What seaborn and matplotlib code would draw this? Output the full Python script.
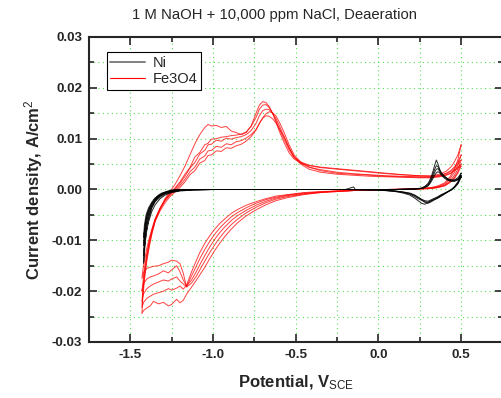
import pandas as pd
import matplotlib
matplotlib.use("Agg")
import matplotlib.pyplot as plt
import matplotlib.ticker as ticker
from matplotlib.lines import Line2D
import seaborn as sns

# ---- Fe3O4: shared potential grids (cathodic sweep, then anodic sweep) ----
FE_CATH_V = [0.50, 0.48, 0.46, 0.43, 0.40, 0.36, 0.32, 0.25, 0.15, 0.05,
             -0.05, -0.15, -0.25, -0.35, -0.45, -0.55, -0.62, -0.68, -0.74, -0.80,
             -0.85, -0.89, -0.93, -0.96, -0.99, -1.02, -1.05, -1.08, -1.10, -1.13,
             -1.16, -1.18, -1.20, -1.22, -1.25, -1.27, -1.30, -1.33, -1.36, -1.38,
             -1.40, -1.42, -1.43]
FE_ANOD_V = [-1.425, -1.415, -1.40, -1.385, -1.37, -1.35, -1.32, -1.29, -1.26, -1.23,
             -1.20, -1.17, -1.14, -1.11, -1.08, -1.05, -1.03, -1.01, -0.98, -0.95,
             -0.92, -0.89, -0.86, -0.83, -0.80, -0.77, -0.74, -0.72, -0.70, -0.68,
             -0.66, -0.64, -0.62, -0.60, -0.57, -0.54, -0.51, -0.47, -0.42, -0.35,
             -0.25, -0.15, -0.05, 0.05, 0.15, 0.25, 0.32, 0.37, 0.41, 0.44,
             0.46, 0.48, 0.50]

fe_cath_1 = [0.0088, 0.0058, 0.0040, 0.0024, 0.0013, 0.0007, 0.0004, 0.0002, 0.0001, 0.0,
             -0.0001, -0.0002, -0.0004, -0.0006, -0.0010, -0.0016, -0.0022, -0.0030, -0.0040, -0.0052,
             -0.0065, -0.0078, -0.0093, -0.0106, -0.0120, -0.0136, -0.0153, -0.0168, -0.0178, -0.0192,
             -0.0206, -0.0218, -0.0223, -0.0216, -0.0226, -0.0229, -0.0222, -0.0225, -0.0220, -0.0229,
             -0.0233, -0.0238, -0.0244]
fe_cath_2 = [0.0068, 0.0048, 0.0034, 0.0020, 0.0011, 0.0006, 0.0003, 0.0002, 0.0001, 0.0,
             -0.0001, -0.0002, -0.0004, -0.0006, -0.0009, -0.0014, -0.0019, -0.0026, -0.0035, -0.0046,
             -0.0058, -0.0069, -0.0083, -0.0095, -0.0109, -0.0124, -0.0141, -0.0158, -0.0170, -0.0184,
             -0.0192, -0.0165, -0.0146, -0.0141, -0.0139, -0.0143, -0.0146, -0.0150, -0.0151, -0.0153,
             -0.0155, -0.0163, -0.0175]
fe_cath_3 = [0.0058, 0.0040, 0.0028, 0.0016, 0.0009, 0.0005, 0.0003, 0.0001, 0.0, 0.0,
             -0.0001, -0.0002, -0.0003, -0.0005, -0.0008, -0.0012, -0.0017, -0.0023, -0.0031, -0.0041,
             -0.0051, -0.0061, -0.0074, -0.0085, -0.0098, -0.0113, -0.0130, -0.0148, -0.0161, -0.0178,
             -0.0190, -0.0178, -0.0162, -0.0150, -0.0158, -0.0164, -0.0160, -0.0166, -0.0170, -0.0172,
             -0.0176, -0.0185, -0.0200]
fe_cath_4 = [0.0050, 0.0035, 0.0024, 0.0014, 0.0008, 0.0004, 0.0002, 0.0001, 0.0, 0.0,
             -0.0001, -0.0002, -0.0003, -0.0005, -0.0007, -0.0011, -0.0015, -0.0020, -0.0027, -0.0036,
             -0.0045, -0.0054, -0.0066, -0.0076, -0.0088, -0.0102, -0.0118, -0.0136, -0.0150, -0.0170,
             -0.0191, -0.0186, -0.0180, -0.0172, -0.0176, -0.0180, -0.0178, -0.0182, -0.0186, -0.0190,
             -0.0195, -0.0205, -0.0220]
fe_cath_5 = [0.0046, 0.0032, 0.0022, 0.0013, 0.0007, 0.0004, 0.0002, 0.0001, 0.0, 0.0,
             -0.0001, -0.0002, -0.0003, -0.0004, -0.0006, -0.0010, -0.0013, -0.0018, -0.0024, -0.0031,
             -0.0039, -0.0047, -0.0058, -0.0067, -0.0078, -0.0091, -0.0106, -0.0124, -0.0139, -0.0162,
             -0.0188, -0.0196, -0.0190, -0.0194, -0.0198, -0.0195, -0.0200, -0.0203, -0.0206, -0.0210,
             -0.0214, -0.0222, -0.0232]

fe_anod_1 = [-0.0215, -0.0180, -0.0140, -0.0112, -0.0088, -0.0062, -0.0038, -0.0018, -0.0004, 0.0010,
             0.0027, 0.0046, 0.0068, 0.0090, 0.0108, 0.0122, 0.0128, 0.0125, 0.0126, 0.0122,
             0.0124, 0.0115, 0.0112, 0.0108, 0.0112, 0.0125, 0.0150, 0.0166, 0.0173, 0.0171,
             0.0163, 0.0150, 0.0133, 0.0115, 0.0092, 0.0072, 0.0060, 0.0052, 0.0047, 0.0043,
             0.0040, 0.0037, 0.0034, 0.0031, 0.0029, 0.0027, 0.0027, 0.0030, 0.0036, 0.0045,
             0.0055, 0.0068, 0.0088]
fe_anod_2 = [-0.0160, -0.0140, -0.0115, -0.0095, -0.0078, -0.0058, -0.0037, -0.0020, -0.0008, 0.0003,
             0.0015, 0.0030, 0.0043, 0.0064, 0.0073, 0.0088, 0.0091, 0.0099, 0.0100, 0.0103,
             0.0104, 0.0106, 0.0107, 0.0109, 0.0113, 0.0124, 0.0142, 0.0158, 0.0166, 0.0167,
             0.0161, 0.0150, 0.0136, 0.0120, 0.0098, 0.0078, 0.0063, 0.0054, 0.0048, 0.0044,
             0.0041, 0.0038, 0.0035, 0.0032, 0.0029, 0.0027, 0.0026, 0.0028, 0.0032, 0.0038,
             0.0045, 0.0054, 0.0068]
fe_anod_3 = [-0.0185, -0.0155, -0.0125, -0.0100, -0.0080, -0.0058, -0.0036, -0.0020, -0.0009, 0.0001,
             0.0012, 0.0026, 0.0042, 0.0053, 0.0070, 0.0077, 0.0088, 0.0089, 0.0097, 0.0095,
             0.0101, 0.0099, 0.0102, 0.0104, 0.0108, 0.0116, 0.0130, 0.0145, 0.0155, 0.0158,
             0.0157, 0.0150, 0.0140, 0.0126, 0.0104, 0.0082, 0.0064, 0.0052, 0.0044, 0.0039,
             0.0034, 0.0031, 0.0029, 0.0027, 0.0026, 0.0025, 0.0025, 0.0027, 0.0031, 0.0036,
             0.0042, 0.0050, 0.0058]
fe_anod_4 = [-0.0200, -0.0165, -0.0130, -0.0103, -0.0082, -0.0060, -0.0038, -0.0022, -0.0011, -0.0002,
             0.0008, 0.0020, 0.0035, 0.0044, 0.0060, 0.0066, 0.0076, 0.0077, 0.0085, 0.0083,
             0.0090, 0.0088, 0.0094, 0.0096, 0.0101, 0.0108, 0.0118, 0.0130, 0.0141, 0.0149,
             0.0153, 0.0151, 0.0145, 0.0133, 0.0112, 0.0088, 0.0068, 0.0054, 0.0044, 0.0037,
             0.0032, 0.0030, 0.0028, 0.0026, 0.0025, 0.0024, 0.0024, 0.0026, 0.0029, 0.0033,
             0.0038, 0.0044, 0.0050]
fe_anod_5 = [-0.0205, -0.0170, -0.0135, -0.0108, -0.0086, -0.0063, -0.0042, -0.0026, -0.0014, -0.0005,
             0.0004, 0.0015, 0.0029, 0.0037, 0.0052, 0.0057, 0.0067, 0.0068, 0.0076, 0.0075,
             0.0082, 0.0081, 0.0086, 0.0089, 0.0095, 0.0104, 0.0117, 0.0130, 0.0140, 0.0145,
             0.0144, 0.0139, 0.0131, 0.0120, 0.0103, 0.0082, 0.0064, 0.0050, 0.0040, 0.0034,
             0.0030, 0.0028, 0.0026, 0.0025, 0.0024, 0.0023, 0.0023, 0.0025, 0.0028, 0.0032,
             0.0037, 0.0042, 0.0046]

# ---- Ni ----
NI_CATH_V = [0.50, 0.48, 0.46, 0.44, 0.42, 0.40, 0.38, 0.36, 0.34, 0.32,
             0.30, 0.28, 0.26, 0.24, 0.22, 0.19, 0.15, 0.10, 0.0, -0.2,
             -0.5, -0.8, -1.0, -1.12, -1.20, -1.25, -1.29, -1.32, -1.35, -1.37,
             -1.39, -1.405, -1.415, -1.42]
NI_ANOD_V = [-1.42, -1.41, -1.40, -1.385, -1.37, -1.35, -1.33, -1.31, -1.28, -1.25,
             -1.20, -1.0, -0.6, -0.2, -0.16, -0.15, -0.14, 0.1, 0.22, 0.26,
             0.28, 0.30, 0.31, 0.32, 0.33, 0.34, 0.35, 0.36, 0.37, 0.38,
             0.40, 0.42, 0.44, 0.46, 0.48, 0.50]

ni_cath_1 = [0.0032, 0.0015, 0.0006, 0.0000, -0.0004, -0.0008, -0.0012, -0.0016, -0.0019, -0.0022,
             -0.0026, -0.0029, -0.0027, -0.0022, -0.0017, -0.0011, -0.0007, -0.0004, -0.0001, 0.0,
             0.0, 0.0, 0.0, -0.0001, -0.0003, -0.0006, -0.0011, -0.0018, -0.0030, -0.0043,
             -0.0064, -0.0088, -0.0115, -0.0145]
ni_cath_2 = [0.0028, 0.0013, 0.0005, -0.0001, -0.0005, -0.0009, -0.0013, -0.0017, -0.0020, -0.0024,
             -0.0027, -0.0025, -0.0021, -0.0018, -0.0014, -0.0009, -0.0006, -0.0003, -0.0001, 0.0,
             0.0, 0.0, 0.0, -0.0001, -0.0002, -0.0005, -0.0009, -0.0015, -0.0024, -0.0035,
             -0.0052, -0.0073, -0.0100, -0.0130]
ni_cath_3 = [0.0026, 0.0012, 0.0004, -0.0001, -0.0004, -0.0008, -0.0011, -0.0015, -0.0019, -0.0022,
             -0.0025, -0.0024, -0.0020, -0.0016, -0.0012, -0.0008, -0.0005, -0.0003, -0.0001, 0.0,
             0.0, 0.0, 0.0, -0.0001, -0.0002, -0.0004, -0.0008, -0.0013, -0.0020, -0.0029,
             -0.0043, -0.0060, -0.0083, -0.0110]
ni_cath_4 = [0.0024, 0.0011, 0.0004, -0.0001, -0.0004, -0.0007, -0.0010, -0.0014, -0.0017, -0.0020,
             -0.0023, -0.0022, -0.0019, -0.0015, -0.0011, -0.0007, -0.0005, -0.0003, -0.0001, 0.0,
             0.0, 0.0, 0.0, 0.0, -0.0002, -0.0004, -0.0007, -0.0011, -0.0017, -0.0025,
             -0.0036, -0.0050, -0.0070, -0.0095]

ni_anod_1 = [-0.0145, -0.0105, -0.0075, -0.0052, -0.0036, -0.0023, -0.0015, -0.0010, -0.0005, -0.0002,
             0.0, 0.0, 0.0, 0.0, 0.0004, 0.0005, 0.0, 0.0, 0.0001, 0.0003,
             0.0006, 0.0012, 0.0018, 0.0026, 0.0036, 0.0048, 0.0058, 0.0050, 0.0040, 0.0033,
             0.0026, 0.0021, 0.0019, 0.0019, 0.0023, 0.0032]
ni_anod_2 = [-0.0130, -0.0092, -0.0066, -0.0046, -0.0032, -0.0021, -0.0014, -0.0009, -0.0005, -0.0002,
             0.0, 0.0, 0.0, 0.0, 0.0, 0.0, 0.0, 0.0, 0.0001, 0.0002,
             0.0005, 0.0010, 0.0015, 0.0022, 0.0031, 0.0040, 0.0047, 0.0045, 0.0038, 0.0032,
             0.0025, 0.0020, 0.0018, 0.0018, 0.0021, 0.0028]
ni_anod_3 = [-0.0110, -0.0080, -0.0058, -0.0041, -0.0029, -0.0019, -0.0012, -0.0008, -0.0004, -0.0002,
             0.0, 0.0, 0.0, 0.0, 0.0, 0.0, 0.0, 0.0, 0.0001, 0.0002,
             0.0004, 0.0008, 0.0013, 0.0019, 0.0026, 0.0034, 0.0040, 0.0041, 0.0036, 0.0030,
             0.0024, 0.0019, 0.0017, 0.0017, 0.0020, 0.0026]
ni_anod_4 = [-0.0095, -0.0070, -0.0051, -0.0037, -0.0026, -0.0017, -0.0011, -0.0007, -0.0004, -0.0001,
             0.0, 0.0, 0.0, 0.0, 0.0, 0.0, 0.0, 0.0, 0.0001, 0.0002,
             0.0004, 0.0007, 0.0011, 0.0016, 0.0022, 0.0028, 0.0033, 0.0035, 0.0033, 0.0028,
             0.0022, 0.0018, 0.0016, 0.0016, 0.0019, 0.0024]


def build_frame(cath_v, anod_v, cath_list, anod_list):
    # one closed loop per cycle: cathodic sweep followed by anodic sweep
    rows = []
    for k, (ci, ai) in enumerate(zip(cath_list, anod_list)):
        v = list(cath_v) + list(anod_v)
        cur = list(ci) + list(ai)
        rows.append(pd.DataFrame({"potential": v, "current": cur, "cycle": k}))
    return pd.concat(rows, ignore_index=True)


fe_df = build_frame(FE_CATH_V, FE_ANOD_V,
                    [fe_cath_1, fe_cath_2, fe_cath_3, fe_cath_4, fe_cath_5],
                    [fe_anod_1, fe_anod_2, fe_anod_3, fe_anod_4, fe_anod_5])
ni_df = build_frame(NI_CATH_V, NI_ANOD_V,
                    [ni_cath_1, ni_cath_2, ni_cath_3, ni_cath_4],
                    [ni_anod_1, ni_anod_2, ni_anod_3, ni_anod_4])

sns.set_style("ticks")
plt.rcParams['font.family'] = ['Liberation Sans', 'DejaVu Sans']
plt.rcParams['mathtext.fontset'] = 'custom'
plt.rcParams['mathtext.rm'] = 'Liberation Sans'
plt.rcParams['mathtext.it'] = 'Liberation Sans'
plt.rcParams['mathtext.bf'] = 'Liberation Sans:bold'

fig = plt.figure(figsize=(5.01, 3.98), dpi=100)
ax = fig.add_axes([89 / 501, 1 - 342 / 398, 413.5 / 501, 305 / 398])

sns.lineplot(data=fe_df, x="potential", y="current", units="cycle", estimator=None,
             sort=False, color="red", lw=0.7, alpha=0.75, ax=ax, legend=False)
sns.lineplot(data=ni_df, x="potential", y="current", units="cycle", estimator=None,
             sort=False, color="black", lw=0.7, alpha=0.85, ax=ax, legend=False)

ax.set_xlim(-1.75, 0.75)
ax.set_ylim(-0.03, 0.03)
ax.xaxis.set_major_locator(ticker.MultipleLocator(0.5))
ax.xaxis.set_minor_locator(ticker.MultipleLocator(0.25))
ax.yaxis.set_major_locator(ticker.MultipleLocator(0.01))
ax.yaxis.set_minor_locator(ticker.MultipleLocator(0.005))
ax.xaxis.set_major_formatter(ticker.FormatStrFormatter('%.1f'))
ax.yaxis.set_major_formatter(ticker.FormatStrFormatter('%.2f'))
ax.tick_params(which='both', direction='in', top=True, right=True, width=1.2)
ax.tick_params(which='major', length=6, labelsize=9.7, pad=5)
ax.tick_params(which='minor', length=3.5)
for lab in ax.get_xticklabels() + ax.get_yticklabels():
    lab.set_fontweight('bold')
for sp in ax.spines.values():
    sp.set_linewidth(1.5)

ax.grid(which='both', color='#55e055', linestyle=(0, (1, 3)), linewidth=0.8)
ax.set_axisbelow(True)

ax.set_xlabel(r'Potential, V$_{\mathrm{SCE}}$', fontsize=12, fontweight='bold', labelpad=9)
ax.set_ylabel(r'Current density, A/cm$^{\mathrm{2}}$', fontsize=12, fontweight='bold', labelpad=5)

fig.text(274 / 501, 1 - 15 / 398, '1 M NaOH + 10,000 ppm NaCl, Deaeration',
         ha='center', va='center', fontsize=10.7)

handles = [Line2D([], [], color='gray', lw=1.4), Line2D([], [], color='red', lw=0.8)]
leg = ax.legend(handles, ['Ni', 'Fe3O4'], loc='upper left',
                bbox_to_anchor=(0.043, 0.95), fontsize=10.5, frameon=True,
                fancybox=False, framealpha=1, edgecolor='black',
                handlelength=2.4, handletextpad=0.5, borderpad=0.25,
                labelspacing=0.15, borderaxespad=0)
leg.get_frame().set_linewidth(0.8)

plt.savefig('out.png', dpi=100)
